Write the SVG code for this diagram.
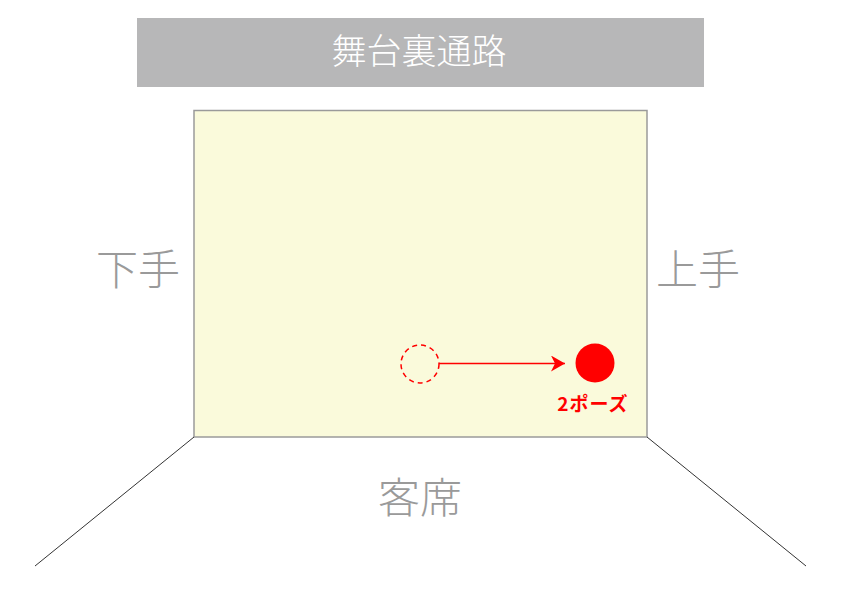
<svg xmlns="http://www.w3.org/2000/svg" width="842" height="595" viewBox="0 0 842 595">
<style>
.lbl{font-family:"Noto Sans CJK JP","Noto Sans",sans-serif;font-weight:300;fill:#9a9a9a;font-size:42px;text-anchor:middle}
.red{fill:#ff0000}
</style>
<defs>
<marker id="ah" markerWidth="16" markerHeight="16" refX="14" refY="8" orient="auto" markerUnits="userSpaceOnUse">
<path d="M0,0 L14,8 L0,16 L4,8 Z" fill="#ff0000"/>
</marker>
</defs>
<rect width="842" height="595" fill="#ffffff"/>
<g id="backstage">
<rect x="137" y="18" width="567" height="69" fill="#b7b7b8"/>
<text x="419" y="64" font-family="Noto Sans CJK JP,sans-serif" font-weight="300" font-size="35" fill="#ffffff" text-anchor="middle">舞台裏通路</text>
</g>
<g id="stage">
<rect x="194" y="110.5" width="453" height="326.5" fill="#fafadb" stroke="#9a9a9a" stroke-width="1.5"/>
</g>
<g id="connectors">
<line x1="194" y1="437" x2="35" y2="566" stroke="#333333" stroke-width="1"/>
<line x1="647" y1="437" x2="806" y2="566" stroke="#333333" stroke-width="1"/>
<line x1="439" y1="363.5" x2="565" y2="363.5" stroke="#ff0000" stroke-width="1.5" marker-end="url(#ah)"/>
</g>
<g id="shimote"><text class="lbl" x="138" y="285">下手</text></g>
<g id="kamite"><text class="lbl" x="698" y="285">上手</text></g>
<g id="audience"><text class="lbl" x="420" y="513">客席</text></g>
<g id="start">
<circle cx="420" cy="364" r="19" fill="none" stroke="#ff0000" stroke-width="1.5" stroke-dasharray="5,4"/>
</g>
<g id="pose2">
<circle cx="595" cy="363" r="19.5" class="red"/>
<text x="593" y="411" font-family="Noto Sans CJK JP,sans-serif" font-weight="bold" font-size="19" fill="#ff0000" text-anchor="middle" letter-spacing="1">2ポーズ</text>
</g>
</svg>
